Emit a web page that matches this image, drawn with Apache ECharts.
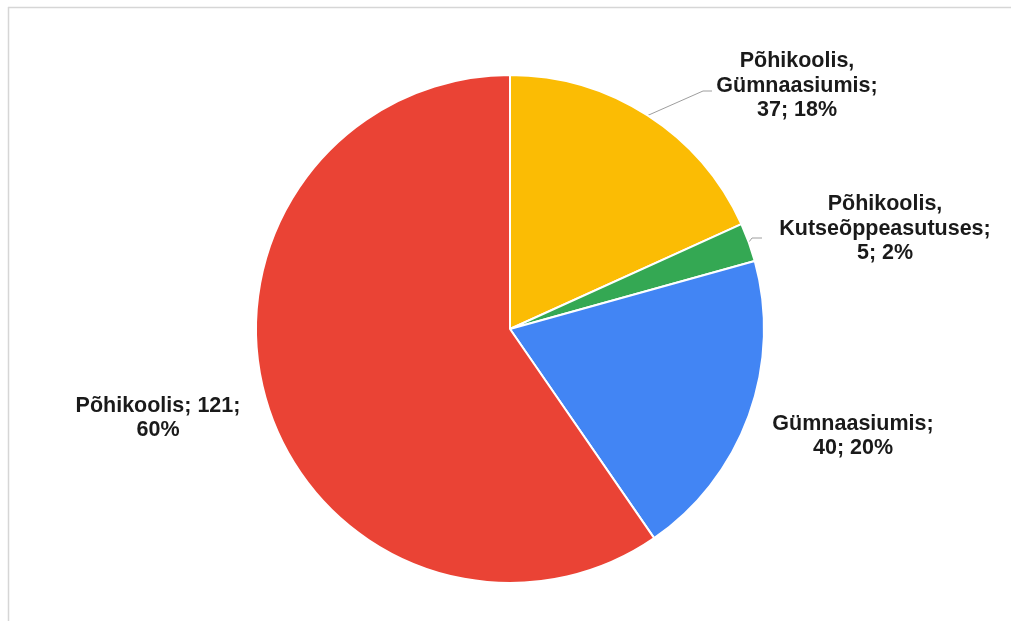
<!DOCTYPE html>
<html>
<head>
<meta charset="utf-8">
<script src="https://cdn.jsdelivr.net/npm/echarts@6/dist/echarts.min.js"></script>
<style>
  html, body { margin: 0; padding: 0; background: #ffffff; }
  #chart { width: 1011px; height: 621px; }
</style>
</head>
<body>
<div id="chart"></div>
<script>
// Slice names and counts, clockwise from twelve o'clock
const categories = [
  'Põhikoolis, Gümnaasiumis',
  'Põhikoolis, Kutseõppeasutuses',
  'Gümnaasiumis',
  'Põhikoolis'
];
const values = [37, 5, 40, 121];

// Label text lines: name part split for wrapping
const labelLines = [
  ['Põhikoolis,', 'Gümnaasiumis;'],
  ['Põhikoolis,', 'Kutseõppeasutuses;'],
  ['Gümnaasiumis;'],
  ['Põhikoolis; {v};']
];

const colors = ['#FBBC04', '#34A853', '#4285F4', '#EA4335'];

// Label centres and leader-line elbows (pixels)
const labelPos = [
  { x: 797, y: 86, line: [[703, 91], [712, 91]] },
  { x: 885, y: 229, line: [[752, 238], [762, 238]] },
  { x: 853, y: 436, line: null },
  { x: 158, y: 418, line: null }
];

const chart = echarts.init(document.getElementById('chart'), null, { renderer: 'canvas' });

const data = categories.map((name, i) => ({
  name: name,
  value: values[i],
  itemStyle: { color: colors[i] },
  labelLine: { show: !!labelPos[i].line }
}));

chart.setOption({
  animation: false,
  backgroundColor: '#ffffff',
  graphic: [
    {
      type: 'line',
      shape: { x1: 8, y1: 7.5, x2: 1011, y2: 7.5 },
      style: { stroke: '#d6d6d6', lineWidth: 1.5 }
    },
    {
      type: 'line',
      shape: { x1: 8.5, y1: 7, x2: 8.5, y2: 621 },
      style: { stroke: '#d6d6d6', lineWidth: 1.5 }
    }
  ],
  series: [{
    type: 'pie',
    center: [510, 329],
    radius: 254,
    startAngle: 90,
    clockwise: true,
    percentPrecision: 0,
    data: data,
    itemStyle: { borderColor: '#ffffff', borderWidth: 2 },
    label: {
      show: true,
      position: 'outside',
      overflow: 'none',
      edgeDistance: 0,
      color: '#1a1a1a',
      fontFamily: 'Liberation Sans, Arial, sans-serif',
      fontWeight: 'bold',
      fontSize: 21.5,
      lineHeight: 24.5,
      align: 'center',
      formatter: function (p) {
        const lines = labelLines[p.dataIndex].map(s => s.replace('{v}', p.value));
        if (p.dataIndex === 3) {
          lines.push(p.percent + '%');
        } else {
          lines.push(p.value + '; ' + p.percent + '%');
        }
        return lines.join('\n');
      }
    },
    labelLine: {
      show: true,
      lineStyle: { color: '#9e9e9e', width: 1 }
    },
    labelLayout: function (params) {
      const pos = labelPos[params.dataIndex];
      const out = {
        x: pos.x,
        y: pos.y,
        align: 'center',
        verticalAlign: 'middle'
      };
      if (pos.line && params.labelLinePoints) {
        out.labelLinePoints = [params.labelLinePoints[0], pos.line[0], pos.line[1]];
      }
      return out;
    },
    emphasis: { disabled: true }
  }]
});
</script>
</body>
</html>
